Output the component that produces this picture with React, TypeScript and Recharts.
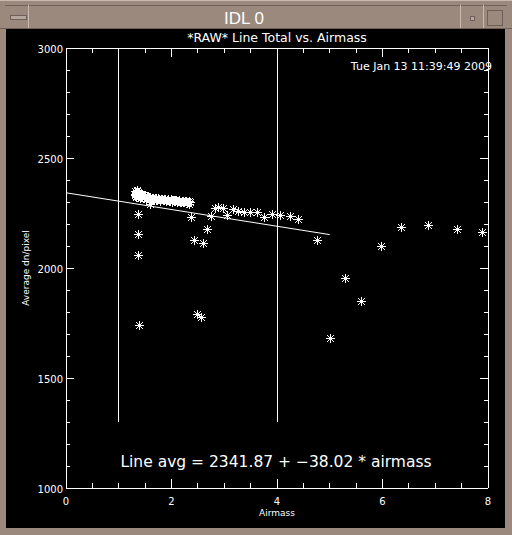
import { ComposedChart, XAxis, YAxis, Scatter, Line, ReferenceLine } from "recharts";

// measured line totals vs airmass
const airmass = [
  1.3, 1.31, 1.32, 1.33, 1.34, 1.35, 1.36, 1.37, 1.38, 1.4,
  1.42, 1.44, 1.46, 1.48, 1.5, 1.52, 1.55, 1.58, 1.61, 1.64,
  1.67, 1.7, 1.73, 1.76, 1.79, 1.82, 1.85, 1.88, 1.91, 1.94,
  1.97, 2.0, 2.03, 2.06, 2.09, 2.12, 2.15, 2.18, 2.21, 2.24,
  2.27, 2.3, 2.33, 1.59, 2.34, 1.36, 1.36, 1.36, 1.38, 2.37,
  2.43, 2.59, 2.49, 2.55, 2.68, 2.74, 2.82, 2.89, 2.97, 3.06,
  3.17, 3.26, 3.37, 3.49, 3.62, 3.75, 3.91, 4.06, 4.25, 4.4,
  4.76, 5.01, 5.28, 5.6, 5.98, 6.36, 6.87, 7.42, 7.89,
  1.305, 1.315, 1.325, 1.335, 1.345, 1.355, 1.365, 1.375, 1.39, 1.41,
  1.43, 1.45, 1.47, 1.49, 1.51, 1.535, 1.565, 1.595, 1.625, 1.655,
  1.685, 1.715, 1.745, 1.775, 1.805, 1.835, 1.865, 1.895, 1.925, 1.955,
  1.985, 2.015, 2.045, 2.075, 2.105, 2.135, 2.165, 2.195, 2.225, 2.255,
  2.285, 2.315, 2.36,
];
const lineTotal = [
  2350, 2338, 2326, 2345, 2331, 2352, 2324, 2340, 2333, 2328,
  2336, 2322, 2330, 2318, 2326, 2320, 2316, 2322, 2314, 2318,
  2312, 2316, 2310, 2314, 2311, 2315, 2308, 2312, 2309, 2313,
  2306, 2310, 2307, 2304, 2309, 2303, 2306, 2302, 2305, 2301,
  2304, 2300, 2303, 2293, 2292, 2245, 2155, 2059, 1741, 2230,
  2127, 2112, 1791, 1776, 2177, 2236, 2271, 2277, 2272, 2240,
  2268, 2258, 2256, 2256, 2254, 2230, 2244, 2241, 2237, 2222,
  2126, 1680, 1953, 1849, 2099, 2185, 2194, 2176, 2162,
  2334, 2348, 2340, 2322, 2355, 2336, 2346, 2328, 2342, 2320,
  2330, 2338, 2324, 2332, 2315, 2328, 2310, 2318, 2320, 2310,
  2319, 2308, 2318, 2306, 2313, 2309, 2315, 2305, 2311, 2304,
  2312, 2302, 2308, 2311, 2300, 2307, 2299, 2304, 2300, 2306,
  2297, 2302, 2298,
];

// fit line endpoints (Line avg = 2341.87 - 38.02 * airmass)
const fitAirmass = [0, 5];
const fitTotal = [2341.87, 2151.77];

// vertical cut markers
const cutAirmass = [1, 4];
const cutRange = [1300, 3000];

const xTicks = [0, 0.5, 1, 1.5, 2, 2.5, 3, 3.5, 4, 4.5, 5, 5.5, 6, 6.5, 7, 7.5, 8];
const xMajor = [0, 2, 4, 6, 8];
const yTicks = [
  1000, 1100, 1200, 1300, 1400, 1500, 1600, 1700, 1800, 1900, 2000,
  2100, 2200, 2300, 2400, 2500, 2600, 2700, 2800, 2900, 3000,
];
const yMajor = [1000, 1500, 2000, 2500, 3000];

const points = airmass.map((x, i) => ({ x, y: lineTotal[i] }));
const fit = fitAirmass.map((x, i) => ({ x, y: fitTotal[i] }));

const FONT = "'DejaVu Sans', sans-serif";
const FRAME = "#9b897d";

function Star(props: any) {
  const cx = Math.round(props.cx) + 0.5;
  const cy = Math.round(props.cy) + 0.5;
  const r = 4;
  const d = 3;
  return (
    <g stroke="#fff" strokeWidth={1} strokeLinecap="square" shapeRendering="crispEdges">
      <line x1={cx - r} x2={cx + r} y1={cy} y2={cy} />
      <line x1={cx} x2={cx} y1={cy - r} y2={cy + r} />
      <line x1={cx - d} x2={cx + d} y1={cy - d} y2={cy + d} />
      <line x1={cx - d} x2={cx + d} y1={cy + d} y2={cy - d} />
    </g>
  );
}

function BottomTick(p: any) {
  const v = p.payload.value;
  const major = xMajor.includes(v);
  return (
    <g>
      <line x1={p.x} x2={p.x} y1={488} y2={488 - (major ? 9 : 5)} stroke="#fff" shapeRendering="crispEdges" />
      {major && (
        <text x={p.x} y={505} textAnchor="middle" fill="#fff" fontSize={10} fontFamily={FONT}>
          {v}
        </text>
      )}
    </g>
  );
}

function TopTick(p: any) {
  const major = xMajor.includes(p.payload.value);
  return <line x1={p.x} x2={p.x} y1={48} y2={48 + (major ? 9 : 5)} stroke="#fff" shapeRendering="crispEdges" />;
}

function LeftTick(p: any) {
  const v = p.payload.value;
  const major = yMajor.includes(v);
  return (
    <g>
      <line x1={66} x2={66 + (major ? 8 : 4)} y1={p.y} y2={p.y} stroke="#fff" shapeRendering="crispEdges" />
      {major && (
        <text x={63} y={p.y + 4.5} textAnchor="end" fill="#fff" fontSize={10} fontFamily={FONT}>
          {v}
        </text>
      )}
    </g>
  );
}

function RightTick(p: any) {
  const major = yMajor.includes(p.payload.value);
  return <line x1={488} x2={488 - (major ? 8 : 4)} y1={p.y} y2={p.y} stroke="#fff" shapeRendering="crispEdges" />;
}

const axisLine = { stroke: "#fff", shapeRendering: "crispEdges" };

export default function App() {
  return (
    <div style={{ position: "absolute", left: 0, top: 0, width: 512, height: 535, background: FRAME, overflow: "hidden" }}>
      {/* window chrome */}
      <div style={{ position: "absolute", left: 0, top: 0, width: 512, height: 1, background: "#c9b9ae" }} />
      <div style={{ position: "absolute", left: 5, top: 5, width: 502, height: 1, background: "#6e6058" }} />
      <div style={{ position: "absolute", left: 28, top: 5, width: 1, height: 24, background: "#c9b9ae" }} />
      <div style={{ position: "absolute", left: 460, top: 5, width: 1, height: 24, background: "#c9b9ae" }} />
      <div style={{ position: "absolute", left: 483, top: 5, width: 1, height: 24, background: "#c9b9ae" }} />
      <div style={{ position: "absolute", left: 10, top: 15, width: 15, height: 3, border: "1px solid #6e6058", background: "#b5a59a" }} />
      <div style={{ position: "absolute", left: 470, top: 16, width: 3, height: 3, border: "1px solid #6e6058", background: "#b5a59a" }} />
      <div style={{ position: "absolute", left: 487, top: 10, width: 14, height: 14, border: "1px solid #6e6058" }} />
      <div style={{ position: "absolute", left: 0, top: 28, width: 512, height: 1, background: "#6e6058" }} />
      <div style={{ position: "absolute", left: 6, top: 29, width: 499, height: 499, background: "#000" }} />

      <ComposedChart
        width={512}
        height={535}
        margin={{ top: 47, right: 23, bottom: 46, left: 65 }}
        style={{ position: "absolute", left: 0, top: 0 }}
      >
        <XAxis
          xAxisId="b"
          type="number"
          dataKey="x"
          domain={[0, 8]}
          ticks={xTicks}
          interval={0}
          height={1}
          tickLine={false}
          axisLine={axisLine}
          tick={BottomTick}
          allowDataOverflow
        />
        <XAxis
          xAxisId="t"
          orientation="top"
          type="number"
          dataKey="x"
          domain={[0, 8]}
          ticks={xTicks}
          interval={0}
          height={1}
          tickLine={false}
          axisLine={axisLine}
          tick={TopTick}
          allowDataOverflow
        />
        <YAxis
          yAxisId="l"
          type="number"
          dataKey="y"
          domain={[1000, 3000]}
          ticks={yTicks}
          interval={0}
          width={1}
          tickLine={false}
          axisLine={axisLine}
          tick={LeftTick}
          allowDataOverflow
        />
        <YAxis
          yAxisId="r"
          orientation="right"
          type="number"
          dataKey="y"
          domain={[1000, 3000]}
          ticks={yTicks}
          interval={0}
          width={1}
          tickLine={false}
          axisLine={axisLine}
          tick={RightTick}
          allowDataOverflow
        />
        {cutAirmass.map((c) => (
          <ReferenceLine
            key={c}
            xAxisId="b"
            yAxisId="l"
            segment={[
              { x: c, y: cutRange[0] },
              { x: c, y: cutRange[1] },
            ]}
            stroke="#fff"
            shapeRendering="crispEdges"
          />
        ))}
        <Line
          xAxisId="b"
          yAxisId="l"
          data={fit}
          dataKey="y"
          stroke="#fff"
          strokeWidth={1}
          dot={false}
          isAnimationActive={false}
        />
        <Scatter
          xAxisId="b"
          yAxisId="l"
          data={points}
          dataKey="y"
          shape={Star}
          isAnimationActive={false}
        />
        <Scatter xAxisId="t" yAxisId="r" data={fit} dataKey="y" shape={() => <g />} isAnimationActive={false} />
      </ComposedChart>

      <svg width={512} height={535} style={{ position: "absolute", left: 0, top: 0, pointerEvents: "none" }}>
        <text x={244} y={24} textAnchor="middle" fill="#fff" fontSize={17} fontFamily="'Liberation Sans', sans-serif">
          IDL 0
        </text>
        <g fill="#fff" fontFamily={FONT}>
          <text x={277} y={42} textAnchor="middle" fontSize={12.5}>
            *RAW* Line Total vs. Airmass
          </text>
          <text x={492} y={70} textAnchor="end" fontSize={11}>
            Tue Jan 13 11:39:49 2009
          </text>
          <text x={276} y={467} textAnchor="middle" fontSize={15.5}>
            Line avg = 2341.87 + −38.02 * airmass
          </text>
          <text x={277} y={516} textAnchor="middle" fontSize={9}>
            Airmass
          </text>
          <text transform="translate(29,268) rotate(-90)" textAnchor="middle" fontSize={9}>
            Average dn/pixel
          </text>
        </g>
      </svg>
    </div>
  );
}
